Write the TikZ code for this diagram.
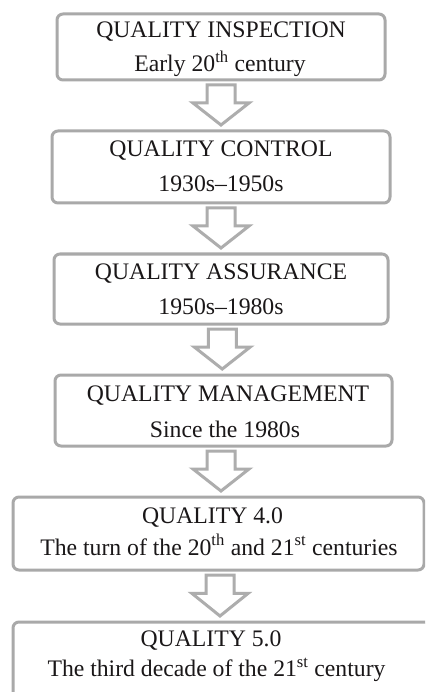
\documentclass[tikz,border=0pt]{standalone}
\usepackage{fontspec}
\setmainfont{Liberation Serif}
\usetikzlibrary{calc}
\definecolor{boxgray}{HTML}{A9A9A9}
\definecolor{arrgray}{HTML}{ADADAD}
\definecolor{ink}{HTML}{1A1718}
\tikzset{
  stage/.style={draw=boxgray, line width=3pt, rounded corners=6pt, inner sep=0pt, outer sep=0pt},
  lbl/.style={anchor=base, inner sep=0pt, text=ink, font=\fontsize{23.7pt}{28pt}\selectfont},
  blockarrow/.style={draw=arrgray, line width=3pt, line join=miter, fill=white}
}
\newcommand\stagearrow[2]{%
  \draw[blockarrow] let \p1=($(#1.south)+(0,5)$), \p2=($(#2.north)+(0,-6)$),
     \p3=($(#1.south)!0.5!(#2.north)$), \n1={0.45*(\y1-\y2)} in
   (\x3-14pt,\y1) -- (\x3+14pt,\y1) -- (\x3+14pt,\y1-\n1) -- (\x3+28pt,\y1-\n1)
   -- (\x3,\y2) -- (\x3-28pt,\y1-\n1) -- (\x3-14pt,\y1-\n1) -- cycle;}
\begin{document}
\begin{tikzpicture}[x=1pt,y=-1pt]
\clip (0,0) rectangle (425,692);
\fill[white] (0,0) rectangle (425,692);
% boxes
\node[stage, minimum width=328pt, minimum height=66pt] (b1) at (221,47) {};
\node[stage, minimum width=338pt, minimum height=72pt] (b2) at (221,167) {};
\node[stage, minimum width=334pt, minimum height=70pt] (b3) at (221,289) {};
\node[stage, minimum width=337pt, minimum height=71pt] (b4) at (223.5,410.5) {};
\node[stage, minimum width=411pt, minimum height=73pt] (b5) at (218.5,533.5) {};
\node[stage, minimum width=417pt, minimum height=100pt] (b6) at (221.5,672) {};
% texts
\node[lbl] (t1a) at (221,37.3) {QUALITY INSPECTION};
\node[lbl] (t1b) at (220,71.7) {Early 20\textsuperscript{th} century};
\node[lbl] (t2a) at (221,157) {QUALITY CONTROL};
\node[lbl] (t2b) at (221,191.7) {1930s--1950s};
\node[lbl] (t3a) at (221,279.3) {QUALITY ASSURANCE};
\node[lbl] (t3b) at (221,314) {1950s--1980s};
\node[lbl] (t4a) at (228,401.7) {QUALITY MANAGEMENT};
\node[lbl] (t4b) at (225,437.3) {Since the 1980s};
\node[lbl] (t5a) at (212.5,523.3) {QUALITY 4.0};
\node[lbl] (t5b) at (219,555) {The turn of the 20\textsuperscript{th} and 21\textsuperscript{st} centuries};
\node[lbl] (t6a) at (211,646.7) {QUALITY 5.0};
\node[lbl] (t6b) at (216.5,676.7) {The third decade of the 21\textsuperscript{st} century};
% arrows
\stagearrow{b1}{b2}
\stagearrow{b2}{b3}
\stagearrow{b3}{b4}
\stagearrow{b4}{b5}
\stagearrow{b5}{b6}
\end{tikzpicture}
\end{document}
